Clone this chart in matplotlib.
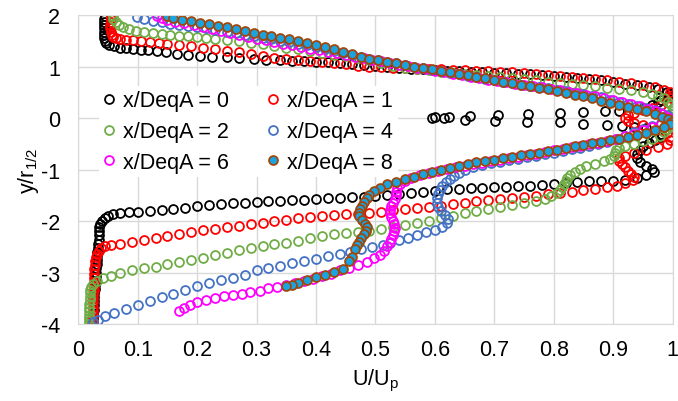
"""Perfis de velocidade U/Up em funcao de y/r1/2 para varias estacoes x/DeqA."""
import matplotlib
matplotlib.use("Agg")
import matplotlib.pyplot as plt

plt.rcParams["font.family"] = ["Liberation Sans", "DejaVu Sans"]
plt.rcParams["mathtext.default"] = "regular"
plt.rcParams["axes.unicode_minus"] = False

# --- Dados (U/Up, y/r1/2), do topo para baixo ---
u_x0 = [.045, .044, .044, .043, .043, .043, .044, .044, .045, .047,
        .052, .060, .070, .080, .092, .105, .118, .132, .148, .166,
        .185, .205, .225, .25, .27, .295, .315, .34, .36, .38,
        .40, .42, .44, .46, .48, .50, .52, .54, .56, .58,
        .60, .62, .64, .66, .68, .70, .72, .74, .76, .78,
        .80, .82, .84, .86, .88, .90, .92, .94, .96, .975,
        .99, .995, .99, .98, .975, .965, .95,
        .91, .887, .85, .811, .757, .707, .659, .623, .60, .595,
        .615, .651, .701, .755, .811, .85, .89, .915, .935,
        .955, .97, .98, .98, .97, .96, .95, .945, .94, .94,
        .945, .955, .965, .968, .955, .94, .92, .90, .88, .86,
        .84, .82, .80, .78, .76, .74, .72, .70, .68, .66,
        .64, .62, .60, .58, .56, .54, .52, .50, .48, .46,
        .44, .42, .40, .38, .36, .34, .32, .30, .28, .26,
        .24, .22, .20, .18, .16, .14, .12, .10, .085, .07,
        .059, .05, .045, .040, .037, .035, .035, .034, .034, .033,
        .033, .032, .032, .031, .031, .030, .030, .029, .029, .028,
        .028, .027, .027, .026, .026, .026, .025, .025, .025]
y_x0 = [1.98, 1.92, 1.86, 1.80, 1.74, 1.68, 1.62, 1.56, 1.50, 1.45,
        1.41, 1.39, 1.37, 1.355, 1.34, 1.325, 1.315, 1.30, 1.28, 1.25,
        1.23, 1.21, 1.195, 1.18, 1.165, 1.15, 1.135, 1.12, 1.11, 1.10,
        1.09, 1.08, 1.065, 1.05, 1.035, 1.02, 1.0, .98, .96, .945,
        .93, .92, .91, .90, .89, .88, .87, .86, .85, .835,
        .82, .80, .78, .755, .73, .70, .67, .635, .60, .56,
        .51, .46, .41, .36, .31, .26, .20,
        .145, .14, .11, .10, .08, .058, .045, .02, .015, .01,
        -.005, -.03, -.064, -.07, -.08, -.12, -.14, -.15, -.17,
        -.20, -.25, -.31, -.37, -.43, -.49, -.55, -.62, -.70, -.78,
        -.86, -.93, -.99, -1.05, -1.11, -1.17, -1.21, -1.22, -1.225, -1.23,
        -1.25, -1.27, -1.285, -1.30, -1.31, -1.325, -1.335, -1.345, -1.355, -1.365,
        -1.375, -1.385, -1.41, -1.43, -1.45, -1.47, -1.49, -1.51, -1.525, -1.535,
        -1.545, -1.56, -1.57, -1.585, -1.595, -1.605, -1.615, -1.625, -1.64, -1.655,
        -1.67, -1.69, -1.715, -1.74, -1.765, -1.785, -1.805, -1.82, -1.83, -1.845,
        -1.86, -1.90, -1.95, -2.00, -2.06, -2.12, -2.20, -2.28, -2.36, -2.44,
        -2.52, -2.60, -2.68, -2.76, -2.84, -2.92, -3.00, -3.08, -3.16, -3.24,
        -3.32, -3.40, -3.48, -3.56, -3.64, -3.72, -3.80, -3.88, -3.97]

u_x1 = [.055, .055, .055, .054, .054, .055, .056, .058, .063, .07,
        .08, .092, .105, .12, .135, .15, .17, .19, .21, .23,
        .25, .27, .29, .31, .33, .35, .37, .39, .41, .43,
        .45, .47, .49, .51, .53, .55, .57, .59, .61, .63,
        .65, .67, .69, .71, .73, .75, .77, .79, .81, .83,
        .85, .87, .89, .91, .93, .95, .97, .985, .995, 1.0,
        .998, .99, .98, .965, .95, .935, .925, .92, .925, .935,
        .95, .965, .98, .99, .995, .995, .99, .975, .955, .935,
        .92, .91, .91, .915, .92, .925, .93, .935, .933, .92,
        .906, .89, .87, .85, .83, .81, .79, .77, .75, .73,
        .71, .69, .67, .65, .63, .61, .59, .57, .55, .53,
        .51, .49, .47, .45, .43, .41, .39, .37, .35, .33,
        .31, .29, .27, .25, .23, .21, .19, .17, .15, .13,
        .11, .09, .07, .055, .045, .038, .034, .031, .029, .028,
        .028, .027, .027, .027, .026, .026, .026, .025, .025, .025,
        .024, .024, .024, .023, .023, .023, .023]
y_x1 = [1.98, 1.92, 1.86, 1.80, 1.74, 1.68, 1.62, 1.58, 1.555, 1.54,
        1.525, 1.51, 1.495, 1.475, 1.46, 1.44, 1.415, 1.39, 1.365, 1.34,
        1.31, 1.28, 1.24, 1.20, 1.17, 1.145, 1.125, 1.105, 1.09, 1.07,
        1.045, 1.02, 1.00, .985, .975, .965, .958, .952, .947, .94,
        .93, .92, .91, .90, .89, .88, .865, .845, .825, .80,
        .78, .76, .735, .71, .685, .65, .60, .55, .50, .44,
        .38, .32, .26, .20, .15, .10, .05, 0, -.05, -.10,
        -.14, -.18, -.23, -.29, -.36, -.43, -.50, -.56, -.62, -.68,
        -.73, -.78, -.84, -.90, -.96, -1.02, -1.08, -1.14, -1.20, -1.26,
        -1.31, -1.34, -1.37, -1.40, -1.43, -1.455, -1.48, -1.505, -1.53, -1.55,
        -1.57, -1.595, -1.62, -1.645, -1.67, -1.70, -1.72, -1.74, -1.765, -1.79,
        -1.815, -1.835, -1.855, -1.87, -1.89, -1.91, -1.93, -1.95, -1.975, -2.0,
        -2.035, -2.065, -2.09, -2.12, -2.15, -2.18, -2.215, -2.25, -2.29, -2.33,
        -2.37, -2.41, -2.44, -2.465, -2.49, -2.53, -2.58, -2.64, -2.70, -2.78,
        -2.86, -2.94, -3.02, -3.10, -3.18, -3.26, -3.34, -3.42, -3.50, -3.58,
        -3.66, -3.74, -3.82, -3.88, -3.92, -3.96, -3.99]

u_x2 = [.058, .059, .063, .068, .075, .085, .097, .11, .125, .14,
        .155, .17, .185, .20, .215, .23, .25, .27, .29, .31,
        .33, .35, .37, .39, .41, .43, .45, .47, .49, .51,
        .53, .55, .57, .59, .61, .63, .65, .67, .69, .71,
        .73, .75, .77, .79, .81, .83, .85, .87, .89, .91,
        .93, .95, .965, .975, .985, .992, .997, 1.0, 1.0, 1.0,
        1.0, 1.0, .998, .995, .99, .985, .978, .965, .95, .935,
        .92, .91, .905, .903, .902, .895, .885, .87, .855, .845,
        .835, .828, .823, .82, .817, .814, .81, .805, .795, .785,
        .77, .75, .73, .71, .69, .67, .65, .63, .61, .59,
        .57, .55, .53, .51, .49, .47, .45, .43, .41, .39,
        .37, .35, .33, .31, .29, .27, .25, .23, .21, .19,
        .17, .15, .13, .11, .09, .07, .055, .042, .032, .025,
        .021, .02, .019, .019, .019, .018, .018, .018, .018, .018,
        .018, .018]
y_x2 = [1.99, 1.93, 1.87, 1.81, 1.76, 1.72, 1.69, 1.67, 1.65, 1.635,
        1.62, 1.60, 1.585, 1.57, 1.555, 1.54, 1.52, 1.49, 1.46, 1.43,
        1.40, 1.37, 1.34, 1.31, 1.27, 1.23, 1.20, 1.16, 1.12, 1.07,
        1.02, .98, .95, .925, .90, .88, .86, .84, .82, .80,
        .78, .76, .735, .71, .69, .665, .64, .615, .59, .565,
        .54, .51, .47, .43, .38, .32, .26, .20, .14, .08,
        .02, -.04, -.10, -.16, -.22, -.28, -.34, -.40, -.45, -.50,
        -.54, -.58, -.63, -.68, -.73, -.79, -.84, -.89, -.94, -.99,
        -1.04, -1.10, -1.16, -1.22, -1.28, -1.34, -1.40, -1.46, -1.52, -1.57,
        -1.61, -1.645, -1.68, -1.72, -1.76, -1.80, -1.85, -1.90, -1.95, -1.99,
        -2.03, -2.07, -2.11, -2.15, -2.185, -2.21, -2.235, -2.26, -2.29, -2.33,
        -2.38, -2.42, -2.455, -2.49, -2.525, -2.57, -2.62, -2.665, -2.71, -2.75,
        -2.79, -2.84, -2.885, -2.92, -2.96, -3.01, -3.06, -3.11, -3.16, -3.22,
        -3.28, -3.34, -3.40, -3.47, -3.54, -3.61, -3.68, -3.75, -3.82, -3.89,
        -3.95, -3.99]

u_x4 = [.099, .11, .125, .14, .155, .17, .185, .20, .215, .23,
        .25, .265, .28, .295, .31, .325, .34, .355, .37, .385,
        .40, .415, .43, .445, .46, .475, .49, .505, .52, .535,
        .55, .565, .58, .595, .61, .625, .64, .655, .67, .685,
        .70, .715, .73, .745, .76, .775, .79, .805, .82, .835,
        .85, .865, .88, .895, .91, .925, .94, .955, .97, .98,
        .99, .995, .99, .98, .965, .95, .935, .92, .905, .89,
        .875, .86, .845, .83, .815, .80, .785, .77, .755, .74,
        .725, .71, .695, .68, .665, .65, .64, .632, .625, .618,
        .612, .608, .605, .603, .603, .605, .61, .617, .622, .62,
        .612, .60, .585, .57, .555, .54, .525, .513, .495, .475,
        .457, .44, .42, .40, .38, .36, .34, .32, .30, .28,
        .26, .24, .22, .20, .18, .16, .14, .12, .10, .08,
        .06, .045, .033, .025]
y_x4 = [1.97, 1.93, 1.89, 1.86, 1.835, 1.81, 1.79, 1.765, 1.74, 1.715,
        1.68, 1.65, 1.62, 1.59, 1.56, 1.53, 1.50, 1.47, 1.44, 1.41,
        1.38, 1.35, 1.31, 1.27, 1.23, 1.19, 1.155, 1.12, 1.09, 1.06,
        1.03, 1.0, .97, .94, .91, .88, .85, .82, .79, .76,
        .73, .70, .675, .65, .625, .60, .575, .55, .52, .49,
        .46, .43, .40, .36, .32, .28, .24, .20, .15, .10,
        .05, 0, -.05, -.10, -.16, -.22, -.28, -.34, -.40, -.46,
        -.51, -.55, -.58, -.61, -.64, -.67, -.70, -.73, -.76, -.79,
        -.82, -.85, -.88, -.91, -.95, -1.0, -1.06, -1.12, -1.18, -1.25,
        -1.32, -1.40, -1.48, -1.56, -1.64, -1.72, -1.80, -1.88, -1.96, -2.04,
        -2.11, -2.17, -2.22, -2.27, -2.32, -2.37, -2.42, -2.475, -2.51, -2.55,
        -2.60, -2.635, -2.68, -2.73, -2.78, -2.82, -2.87, -2.91, -2.96, -3.05,
        -3.10, -3.15, -3.21, -3.27, -3.34, -3.41, -3.48, -3.56, -3.64, -3.71,
        -3.78, -3.85, -3.92, -3.97]

u_x6 = [.132, .14, .15, .163, .178, .194, .21, .225, .24, .255,
        .27, .285, .30, .315, .33, .345, .36, .375, .39, .405,
        .42, .435, .45, .465, .48, .495, .51, .525, .54, .555,
        .57, .585, .60, .615, .63, .645, .66, .675, .69, .705,
        .72, .735, .75, .765, .78, .795, .81, .825, .84, .855,
        .87, .885, .90, .915, .93, .945, .96, .972, .982, .99,
        .995, .99, .98, .965, .95, .935, .92, .905, .89, .875,
        .86, .845, .83, .815, .80, .785, .77, .755, .74, .725,
        .71, .695, .68, .665, .65, .635, .62, .605, .59, .575,
        .56, .55, .542, .537, .535, .535, .533, .53, .527, .525,
        .525, .527, .53, .532, .533, .532, .53, .527, .524, .52,
        .515, .507, .497, .485, .47, .455, .44, .425, .41, .395,
        .38, .365, .35, .335, .32, .305, .289, .275, .26, .245,
        .23, .215, .20, .188, .178, .17]
y_x6 = [1.99, 1.94, 1.90, 1.87, 1.84, 1.80, 1.77, 1.73, 1.70, 1.66,
        1.62, 1.58, 1.54, 1.51, 1.47, 1.44, 1.41, 1.38, 1.35, 1.32,
        1.29, 1.26, 1.23, 1.19, 1.16, 1.13, 1.10, 1.07, 1.04, 1.01,
        .98, .95, .92, .89, .86, .83, .80, .77, .745, .72,
        .695, .67, .645, .62, .595, .57, .54, .51, .48, .45,
        .42, .39, .35, .31, .27, .23, .18, .13, .08, .03,
        -.02, -.07, -.12, -.18, -.24, -.30, -.35, -.40, -.44, -.48,
        -.51, -.54, -.57, -.60, -.63, -.66, -.69, -.72, -.75, -.78,
        -.81, -.84, -.87, -.90, -.93, -.96, -.99, -1.03, -1.07, -1.11,
        -1.16, -1.22, -1.29, -1.36, -1.43, -1.50, -1.57, -1.64, -1.71, -1.78,
        -1.85, -1.92, -1.99, -2.06, -2.13, -2.20, -2.27, -2.34, -2.41, -2.48,
        -2.58, -2.65, -2.72, -2.80, -2.86, -2.91, -2.96, -3.02, -3.07, -3.12,
        -3.16, -3.20, -3.24, -3.28, -3.31, -3.35, -3.38, -3.41, -3.44, -3.46,
        -3.49, -3.53, -3.58, -3.63, -3.68, -3.74]

u_x8 = [.149, .16, .175, .19, .205, .22, .235, .25, .265, .28,
        .295, .31, .325, .34, .355, .37, .385, .40, .415, .43,
        .445, .46, .475, .49, .505, .52, .535, .55, .565, .58,
        .595, .61, .625, .64, .655, .67, .685, .70, .715, .73,
        .745, .76, .775, .79, .805, .82, .835, .85, .865, .88,
        .895, .91, .925, .94, .955, .97, .982, .992, .997, .995,
        .985, .97, .955, .94, .925, .91, .895, .88, .865, .85,
        .835, .82, .805, .79, .775, .76, .745, .73, .715, .70,
        .685, .67, .655, .64, .625, .61, .595, .58, .565, .55,
        .535, .52, .507, .498, .49, .485, .48, .477, .474, .472,
        .473, .477, .482, .485, .484, .48, .476, .472, .469, .466,
        .46, .455, .446, .43, .415, .40, .385, .37, .36, .35]
y_x8 = [1.99, 1.95, 1.91, 1.88, 1.85, 1.82, 1.79, 1.76, 1.73, 1.70,
        1.66, 1.62, 1.59, 1.56, 1.53, 1.50, 1.46, 1.42, 1.38, 1.34,
        1.29, 1.24, 1.19, 1.15, 1.12, 1.09, 1.06, 1.03, 1.00, .975,
        .95, .92, .89, .86, .83, .80, .77, .74, .71, .68,
        .65, .62, .59, .56, .525, .49, .455, .42, .38, .34,
        .30, .26, .22, .18, .13, .08, .03, -.02, -.07, -.12,
        -.18, -.24, -.29, -.33, -.37, -.40, -.43, -.46, -.49, -.52,
        -.55, -.585, -.615, -.645, -.67, -.70, -.725, -.75, -.78, -.805,
        -.83, -.86, -.89, -.93, -.97, -1.01, -1.05, -1.09, -1.14, -1.19,
        -1.24, -1.29, -1.35, -1.42, -1.49, -1.56, -1.63, -1.70, -1.77, -1.84,
        -1.91, -1.98, -2.05, -2.12, -2.19, -2.26, -2.33, -2.40, -2.47, -2.54,
        -2.70, -2.78, -2.93, -2.99, -3.04, -3.09, -3.15, -3.20, -3.24, -3.27]

labels = ["x/DeqA = 0", "x/DeqA = 1", "x/DeqA = 2",
          "x/DeqA = 4", "x/DeqA = 6", "x/DeqA = 8"]
x_ticks = [0, 0.1, 0.2, 0.3, 0.4, 0.5, 0.6, 0.7, 0.8, 0.9, 1]
x_ticklabels = ["0", "0.1", "0.2", "0.3", "0.4", "0.5",
                "0.6", "0.7", "0.8", "0.9", "1"]
y_ticks = [-4, -3, -2, -1, 0, 1, 2]

series = [(u_x0, y_x0), (u_x1, y_x1), (u_x2, y_x2),
          (u_x4, y_x4), (u_x6, y_x6), (u_x8, y_x8)]
EDGE = ["#000000", "#ff0000", "#70ad47", "#4472c4", "#ff00ff", "#9e480e"]
FACE = ["none", "none", "none", "none", "none", "#1aa3df"]
GRID = "#d9d9d9"

fig = plt.figure(figsize=(6.78, 4.02), dpi=100)
ax = fig.add_axes([0.1155, 0.1915, 0.8765, 0.7685])

handles = []
for (u, y), ec, fc, lab in zip(series, EDGE, FACE, labels):
    h, = ax.plot(u, y, "o", ms=6.4, mew=1.3, mec=ec, mfc=fc,
                 linestyle="none", label=lab)
    handles.append(h)

ax.set_xlim(0, 1)
ax.set_ylim(-4, 2)
ax.set_xticks(x_ticks)
ax.set_xticklabels(x_ticklabels)
ax.set_yticks(y_ticks)
ax.grid(True, color=GRID, lw=1.0)
ax.set_axisbelow(True)
for s in ax.spines.values():
    s.set_color(GRID)
ax.tick_params(length=0, labelsize=15.5, colors="#000000")
ax.tick_params(axis="x", pad=11)
ax.tick_params(axis="y", pad=13)
ax.set_xlabel("U/U$_{p}$", fontsize=15.5, labelpad=5)
ax.set_ylabel("y/r$_{1/2}$", fontsize=15.5, labelpad=0)

order = [0, 2, 4, 1, 3, 5]
leg = ax.legend([handles[i] for i in order], [labels[i] for i in order],
                ncol=2, loc="upper left", bbox_to_anchor=(0.034, 0.77),
                fontsize=15.5, frameon=True, fancybox=False,
                handlelength=0.6, handletextpad=0.35, columnspacing=1.75,
                labelspacing=0.45, borderpad=0.2, borderaxespad=0)
leg.get_frame().set_facecolor("white")
leg.get_frame().set_edgecolor("none")
leg.get_frame().set_alpha(1)

fig.savefig("out.png", dpi=100)
